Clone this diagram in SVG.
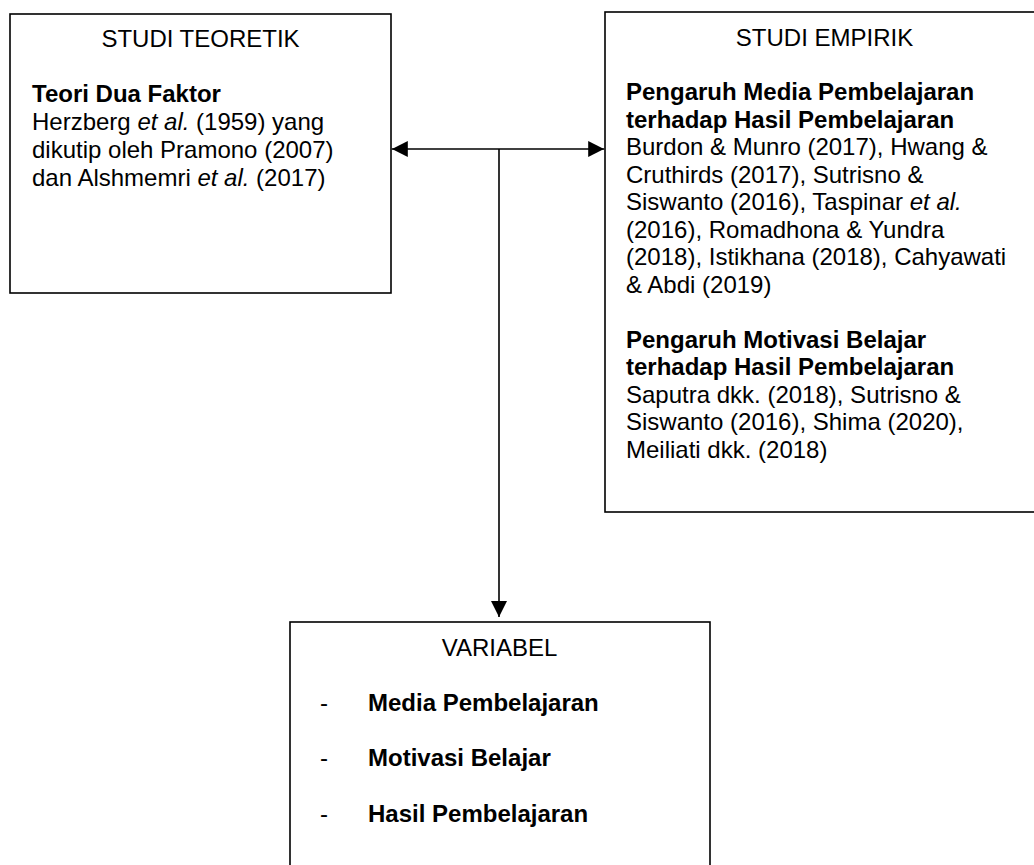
<svg xmlns="http://www.w3.org/2000/svg" width="1034" height="865" viewBox="0 0 1034 865">
  <style>
    .box { fill: #ffffff; stroke: #000000; stroke-width: 1.6; }
    .t { font-family: "Liberation Sans", Arial, sans-serif; font-size: 24px; fill: #000000; }
    .b { font-weight: bold; }
    .i { font-style: italic; }
    .mid { text-anchor: middle; }
    .wire { fill: none; stroke: #000000; stroke-width: 1.6; }
  </style>
  <defs>
    <marker id="arrow" viewBox="0 0 16 16" refX="16" refY="8" markerWidth="16" markerHeight="16" markerUnits="userSpaceOnUse" orient="auto-start-reverse">
      <path d="M0,0 L16,8 L0,16 Z" fill="#000000"/>
    </marker>
  </defs>

  <rect width="1034" height="865" fill="#ffffff"/>

  <!-- Theoretical study -->
  <g id="studi-teoretik">
    <rect class="box" x="10" y="14" width="381" height="279"/>
    <text class="t mid" x="200.5" y="47">STUDI TEORETIK</text>
    <text class="t b" x="32" y="102">Teori Dua Faktor</text>
    <text class="t" x="32" y="130">Herzberg <tspan class="i">et al.</tspan> (1959) yang</text>
    <text class="t" x="32" y="158">dikutip oleh Pramono (2007)</text>
    <text class="t" x="32" y="186">dan Alshmemri <tspan class="i">et al.</tspan> (2017)</text>
  </g>

  <!-- Empirical study -->
  <g id="studi-empirik">
    <rect class="box" x="605" y="12" width="440" height="500"/>
    <text class="t mid" x="824.5" y="46">STUDI EMPIRIK</text>
    <text class="t b" x="626" y="100">Pengaruh Media Pembelajaran</text>
    <text class="t b" x="626" y="127.5">terhadap Hasil Pembelajaran</text>
    <text class="t" x="626" y="155">Burdon &amp; Munro (2017), Hwang &amp;</text>
    <text class="t" x="626" y="182.5">Cruthirds (2017), Sutrisno &amp;</text>
    <text class="t" x="626" y="210">Siswanto (2016), Taspinar <tspan class="i">et al.</tspan></text>
    <text class="t" x="626" y="237.5">(2016), Romadhona &amp; Yundra</text>
    <text class="t" x="626" y="265">(2018), Istikhana (2018), Cahyawati</text>
    <text class="t" x="626" y="292.5">&amp; Abdi (2019)</text>
    <text class="t b" x="626" y="347.5">Pengaruh Motivasi Belajar</text>
    <text class="t b" x="626" y="375">terhadap Hasil Pembelajaran</text>
    <text class="t" x="626" y="402.5">Saputra dkk. (2018), Sutrisno &amp;</text>
    <text class="t" x="626" y="430">Siswanto (2016), Shima (2020),</text>
    <text class="t" x="626" y="457.5">Meiliati dkk. (2018)</text>
  </g>

  <!-- Variables -->
  <g id="variabel">
    <rect class="box" x="290" y="622" width="420" height="260"/>
    <text class="t mid" x="499.5" y="656">VARIABEL</text>
    <text class="t" x="320" y="711">-</text>
    <text class="t b" x="368" y="711">Media Pembelajaran</text>
    <text class="t" x="320" y="766">-</text>
    <text class="t b" x="368" y="766">Motivasi Belajar</text>
    <text class="t" x="320" y="821.5">-</text>
    <text class="t b" x="368" y="821.5">Hasil Pembelajaran</text>
  </g>

  <!-- Connectors -->
  <g id="connectors">
    <path class="wire" d="M391.8,149 L604.2,149" marker-start="url(#arrow)" marker-end="url(#arrow)"/>
    <path class="wire" d="M499,149 L499,617" marker-end="url(#arrow)"/>
  </g>
</svg>
